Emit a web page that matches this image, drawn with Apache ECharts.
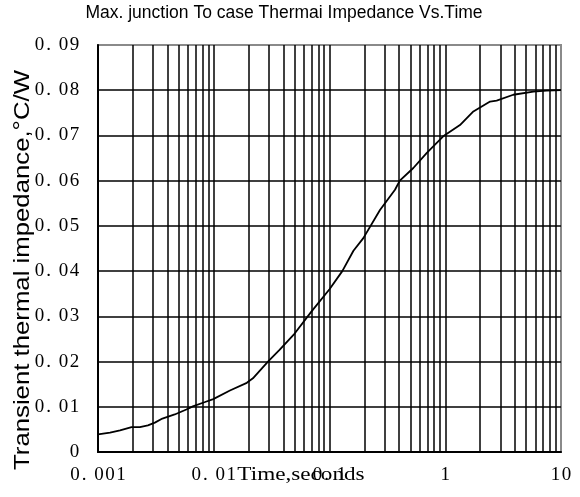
<!DOCTYPE html>
<html><head><meta charset="utf-8">
<script src="https://cdn.jsdelivr.net/npm/echarts@6/dist/echarts.min.js"></script>
<style>html,body{margin:0;padding:0;background:#fff}#c{width:580px;height:497px}</style>
</head><body><div id="c"></div>
<script>
// ---- data ----
const times = [0.001, 0.00127, 0.00155, 0.00195, 0.0023, 0.0027, 0.0031, 0.0036, 0.0046, 0.0058, 0.0066, 0.0083, 0.0099, 0.0138, 0.0193, 0.0218, 0.0294, 0.037, 0.05, 0.07, 0.1, 0.129, 0.161, 0.196, 0.273, 0.368, 0.405, 0.53, 0.69, 0.96, 1.34, 1.75, 2.44, 2.78, 3.87, 5.77, 7.5, 10];
const zth = [0.0039, 0.0043, 0.0048, 0.0055, 0.0055, 0.0059, 0.0065, 0.0074, 0.0083, 0.0094, 0.0101, 0.0110, 0.0117, 0.0136, 0.0153, 0.0163, 0.0200, 0.0226, 0.0262, 0.0311, 0.0360, 0.0400, 0.0445, 0.0473, 0.0535, 0.0580, 0.0600, 0.0628, 0.0661, 0.0698, 0.0723, 0.0753, 0.0775, 0.0777, 0.0790, 0.0797, 0.0799, 0.0800];
const xTickLabels = ['0. 001', '0. 01', '0. 1', '1', '10'];
const yTickLabels = ['0', '0. 01', '0. 02', '0. 03', '0. 04', '0. 05', '0. 06', '0. 07', '0. 08', '0. 09'];
const xMinorGrid = [0.002,0.003,0.004,0.005,0.006,0.007,0.008,0.009,
                    0.02,0.03,0.04,0.05,0.06,0.07,0.08,0.09,
                    0.2,0.3,0.4,0.5,0.6,0.7,0.8,0.9,
                    2,3,4,5,6,7,8,9];
const titleText = 'Max. junction To case Thermai Impedance Vs.Time';
const xName = 'Time,seconds';
const yName = 'Transient thermal impedance,°C/W';

// ---- helpers ----
function cells(s) {
  return s.split('').map(ch => ch === '.' ? '{p|.}' : (ch === ' ' ? '{s| }' : '{d|' + ch + '}')).join('');
}
const base = {fontFamily: 'Liberation Serif', fontSize: 19, color: '#000'};
const richCells = {
  d: Object.assign({width: 11, align: 'center'}, base),
  p: Object.assign({width: 7, align: 'center'}, base),
  s: Object.assign({width: 6, align: 'center'}, base)
};

const chart = echarts.init(document.getElementById('c'), null, {renderer: 'canvas'});
chart.setOption({
  animation: false,
  backgroundColor: '#fff',
  grid: {left: 98, right: 19, top: 45, bottom: 45, containLabel: false, outerBoundsMode: 'none',
         show: true, borderColor: '#8a8a8a', borderWidth: 2, backgroundColor: 'transparent'},
  graphic: [
    {type: 'text', x: 284, y: 13, style: {text: titleText, font: '17.5px "Liberation Sans"', fill: '#000', textAlign: 'center', textVerticalAlign: 'middle'}},
    {type: 'text', x: 23, y: 270, rotation: Math.PI / 2, scaleX: 1.17, style: {text: yName, font: '22px "Liberation Sans"', fill: '#000', textAlign: 'center', textVerticalAlign: 'middle'}},
    {type: 'text', x: 301, y: 475, scaleX: 1.22, style: {text: xName, font: '19px "Liberation Serif"', fill: '#000', textAlign: 'center', textVerticalAlign: 'middle'}}
  ],
  xAxis: {
    type: 'log', logBase: 10, min: 0.001, max: 10,
    axisLine: {show: true, lineStyle: {color: '#000', width: 2}},
    axisTick: {show: false},
    axisLabel: {margin: 14, formatter: v => cells(xTickLabels[Math.round(Math.log10(v)) + 3] || ''), rich: richCells},
    splitLine: {show: true, showMinLine: false, showMaxLine: false, lineStyle: {color: '#000', width: 1.5}},
    minorTick: {show: false}, minorSplitLine: {show: false}
  },
  yAxis: {
    type: 'value', min: 0, max: 0.09, interval: 0.01,
    axisLine: {show: true, lineStyle: {color: '#000', width: 2}},
    axisTick: {show: false},
    axisLabel: {margin: 18, formatter: v => cells(yTickLabels[Math.round(v * 100)] || ''), rich: richCells},
    splitLine: {show: true, showMinLine: false, showMaxLine: false, lineStyle: {color: '#000', width: 1.5}}
  },
  series: [{
    type: 'lines',
    coordinateSystem: 'cartesian2d',
    silent: true,
    z: 1,
    lineStyle: {color: '#000', width: 1.5, opacity: 1},
    data: xMinorGrid.map(v => ({coords: [[v, 0], [v, 0.09]]}))
  }, {
    type: 'line',
    data: times.map((t, i) => [t, zth[i]]),
    symbol: 'none', smooth: false,
    lineStyle: {color: '#000', width: 1.8},
    z: 5
  }]
});
</script></body></html>
